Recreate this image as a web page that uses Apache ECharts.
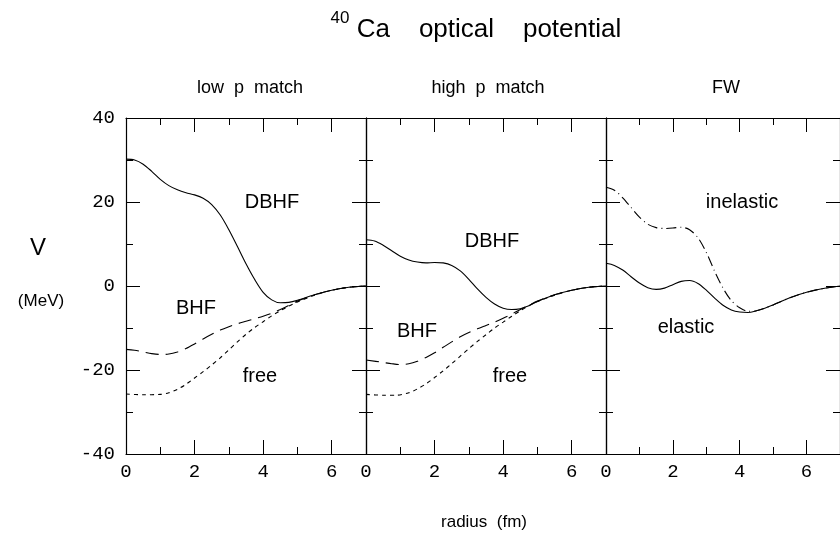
<!DOCTYPE html>
<html>
<head>
<meta charset="utf-8">
<script src="https://cdn.jsdelivr.net/npm/echarts@6/dist/echarts.min.js"></script>
<style>html,body{margin:0;padding:0;background:#fff}#c{width:840px;height:538px}</style>
</head>
<body>
<div id="c"></div>
<script>
// ---- data (radius in fm, V in MeV) ----
var panelTitles = ['low  p  match', 'high  p  match', 'FW'];
var xTicks = [0, 2, 4, 6];
var yTicks = [-40, -20, 0, 20, 40];

var lowDBHF_r = [0, 0.25, 0.5, 0.75, 1.0, 1.25, 1.5, 1.75, 2.0, 2.25, 2.5, 2.75, 3.0, 3.25, 3.5, 3.75, 4.0, 4.25, 4.5, 4.75, 5.0, 5.5, 6.0, 6.5, 7.0];
var lowDBHF_V = [30.2, 30.0, 29.0, 27.3, 25.4, 23.9, 22.9, 22.2, 21.7, 20.9, 19.4, 16.9, 13.4, 9.4, 5.3, 1.6, -1.5, -3.3, -4.0, -3.9, -3.4, -2.1, -1.0, -0.3, 0];
var lowBHF_r = [0, 0.25, 0.5, 0.75, 1.0, 1.25, 1.5, 1.75, 2.0, 2.25, 2.5, 2.75, 3.0, 3.25, 3.5, 3.75, 4.0, 4.25, 4.5, 4.75, 5.0, 5.5, 6.0, 6.5, 7.0];
var lowBHF_V = [-15.1, -15.3, -15.7, -16.1, -16.3, -16.2, -15.7, -14.9, -13.8, -12.6, -11.5, -10.5, -9.7, -9.0, -8.4, -7.8, -7.2, -6.5, -5.6, -4.6, -3.6, -2.1, -1.0, -0.3, 0];
var lowFree_r = [0, 0.5, 1.0, 1.25, 1.5, 1.75, 2.0, 2.25, 2.5, 2.75, 3.0, 3.25, 3.5, 3.75, 4.0, 4.25, 4.5, 4.75, 5.0, 5.5, 6.0, 6.5, 7.0];
var lowFree_V = [-25.7, -25.9, -25.8, -25.4, -24.6, -23.4, -21.9, -20.4, -18.8, -17.1, -15.2, -13.3, -11.5, -9.9, -8.5, -7.1, -5.9, -4.8, -3.8, -2.2, -1.0, -0.3, 0];

var highDBHF_r = [0, 0.25, 0.5, 0.75, 1.0, 1.25, 1.5, 1.75, 2.0, 2.25, 2.5, 2.75, 3.0, 3.25, 3.5, 3.75, 4.0, 4.25, 4.5, 4.75, 5.0, 5.5, 6.0, 6.5, 7.0];
var highDBHF_V = [11.0, 10.7, 9.7, 8.4, 7.1, 6.2, 5.7, 5.5, 5.6, 5.5, 4.9, 3.6, 1.6, -0.7, -2.7, -4.3, -5.3, -5.6, -5.4, -4.7, -3.7, -2.1, -1.0, -0.3, 0];
var highBHF_r = [0, 0.5, 0.75, 1.0, 1.25, 1.5, 1.75, 2.0, 2.25, 2.5, 2.75, 3.0, 3.25, 3.5, 3.75, 4.0, 4.25, 4.5, 4.75, 5.0, 5.5, 6.0, 6.5, 7.0];
var highBHF_V = [-17.6, -18.2, -18.5, -18.7, -18.5, -17.9, -17.0, -15.9, -14.6, -13.3, -12.1, -11.1, -10.2, -9.4, -8.6, -7.7, -6.7, -5.6, -4.6, -3.6, -2.1, -1.0, -0.3, 0];
var highFree_r = [0, 0.5, 0.9, 1.25, 1.5, 1.75, 2.0, 2.25, 2.5, 2.75, 3.0, 3.25, 3.5, 3.75, 4.0, 4.25, 4.5, 4.75, 5.0, 5.5, 6.0, 6.5, 7.0];
var highFree_V = [-25.8, -26.0, -26.0, -25.4, -24.5, -23.3, -21.8, -20.2, -18.5, -16.7, -14.9, -13.2, -11.6, -10.0, -8.6, -7.2, -5.9, -4.7, -3.7, -2.2, -1.0, -0.3, 0];

var fwElastic_r = [0, 0.25, 0.5, 0.75, 1.0, 1.25, 1.5, 1.75, 2.0, 2.25, 2.5, 2.75, 3.0, 3.25, 3.5, 3.75, 4.0, 4.25, 4.5, 4.75, 5.0, 5.5, 6.0, 6.5, 7.0];
var fwElastic_V = [5.4, 4.9, 3.8, 2.2, 0.7, -0.4, -0.8, -0.5, 0.3, 1.1, 1.3, 0.6, -1.0, -2.9, -4.6, -5.7, -6.2, -6.3, -5.9, -5.3, -4.5, -2.8, -1.5, -0.6, 0];
var fwInelastic_r = [0, 0.25, 0.5, 0.75, 1.0, 1.25, 1.5, 1.75, 2.0, 2.25, 2.5, 2.75, 3.0, 3.25, 3.5, 3.75, 4.0, 4.25, 4.5, 4.75, 5.0, 5.5, 6.0, 6.5, 7.0];
var fwInelastic_V = [23.5, 22.8, 21.0, 18.7, 16.4, 14.7, 13.9, 13.7, 13.8, 14.0, 13.4, 11.5, 8.0, 3.5, -0.5, -3.5, -5.2, -6.0, -5.9, -5.3, -4.5, -2.8, -1.5, -0.6, 0];

// ---- build ----
function pairs(r, v) { return r.map(function (x, i) { return [x, v[i]]; }); }

var SANS = 'Liberation Sans, Arial, sans-serif';
var MONO = 'Liberation Mono, Courier New, monospace';
var gridLefts = [126, 366, 606];
var grids = gridLefts.map(function (l) { return { left: l, top: 118, width: 240, height: 336, containLabel: false }; });

var xAxes = [], yAxes = [];
function axLine(show) { return { show: show, onZero: false, lineStyle: { color: '#000', width: 1.2 } }; }
function xa(g, pos, interval, len, labels, line) {
  return {
    type: 'value', gridIndex: g, position: pos, min: 0, max: 7, interval: interval,
    axisLine: axLine(line),
    axisTick: { show: true, inside: true, length: len, lineStyle: { color: '#000', width: 1 } },
    axisLabel: labels ? {
      show: true, margin: 8, showMaxLabel: false, color: '#000', fontFamily: MONO, fontSize: 19,
      formatter: function (v) { return xTicks.indexOf(v) >= 0 ? String(v) : ''; }
    } : { show: false },
    splitLine: { show: false }
  };
}
function ya(g, pos, interval, len, labels, line) {
  return {
    type: 'value', gridIndex: g, position: pos, min: -40, max: 40, interval: interval,
    axisLine: axLine(line),
    axisTick: { show: true, inside: true, length: len, lineStyle: { color: '#000', width: 1 } },
    axisLabel: labels ? {
      show: true, margin: 11, color: '#000', fontFamily: MONO, fontSize: 19,
      formatter: function (v) { return yTicks.indexOf(v) >= 0 ? String(v) : ''; }
    } : { show: false },
    splitLine: { show: false }
  };
}
for (var g = 0; g < 3; g++) {
  xAxes.push(xa(g, 'bottom', 2, 14, true, true));   // index 4g
  xAxes.push(xa(g, 'bottom', 1, 7, false, false));
  xAxes.push(xa(g, 'top', 2, 14, false, true));
  xAxes.push(xa(g, 'top', 1, 7, false, false));
  yAxes.push(ya(g, 'left', 20, 14, g === 0, true)); // index 4g
  yAxes.push(ya(g, 'left', 10, 7, false, false));
  yAxes.push(ya(g, 'right', 20, 14, false, true));
  yAxes.push(ya(g, 'right', 10, 7, false, false));
}

function line(g, r, v, dash) {
  return {
    type: 'line', xAxisIndex: 4 * g, yAxisIndex: 4 * g, data: pairs(r, v),
    smooth: 0.3, symbol: 'none', silent: true, clip: true,
    lineStyle: { color: '#000', width: 1.1, type: dash || 'solid' }
  };
}
var LONG = [13, 7], SHORT = [4, 4], DASHDOT = [10, 4, 1, 4];
var series = [
  line(0, lowDBHF_r, lowDBHF_V), line(0, lowBHF_r, lowBHF_V, LONG), line(0, lowFree_r, lowFree_V, SHORT),
  line(1, highDBHF_r, highDBHF_V), line(1, highBHF_r, highBHF_V, LONG), line(1, highFree_r, highFree_V, SHORT),
  line(2, fwElastic_r, fwElastic_V), line(2, fwInelastic_r, fwInelastic_V, DASHDOT)
];

function txt(x, y, s, size, align, font) {
  return { type: 'text', silent: true, style: { x: x, y: y, text: s, fill: '#000', fontFamily: font || SANS, fontSize: size, align: align || 'center', verticalAlign: 'middle' } };
}
var graphic = [
  txt(340, 18, '40', 17, 'center'),
  txt(489, 30, 'Ca    optical    potential', 26, 'center'),
  txt(250, 88, panelTitles[0], 18), txt(488, 88, panelTitles[1], 18), txt(726, 88, panelTitles[2], 18),
  txt(38, 248, 'V', 24), txt(41, 301, '(MeV)', 17),
  txt(484, 522, 'radius  (fm)', 17),
  txt(272, 202, 'DBHF', 20), txt(196, 308, 'BHF', 20), txt(260, 376, 'free', 20),
  txt(492, 241, 'DBHF', 20), txt(417, 331, 'BHF', 20), txt(510, 376, 'free', 20),
  txt(742, 202, 'inelastic', 20), txt(686, 327, 'elastic', 20)
];

var chart = echarts.init(document.getElementById('c'), null, { renderer: 'canvas' });
chart.setOption({
  backgroundColor: '#fff', animation: false,
  grid: grids, xAxis: xAxes, yAxis: yAxes, series: series, graphic: graphic
});
</script>
</body>
</html>
